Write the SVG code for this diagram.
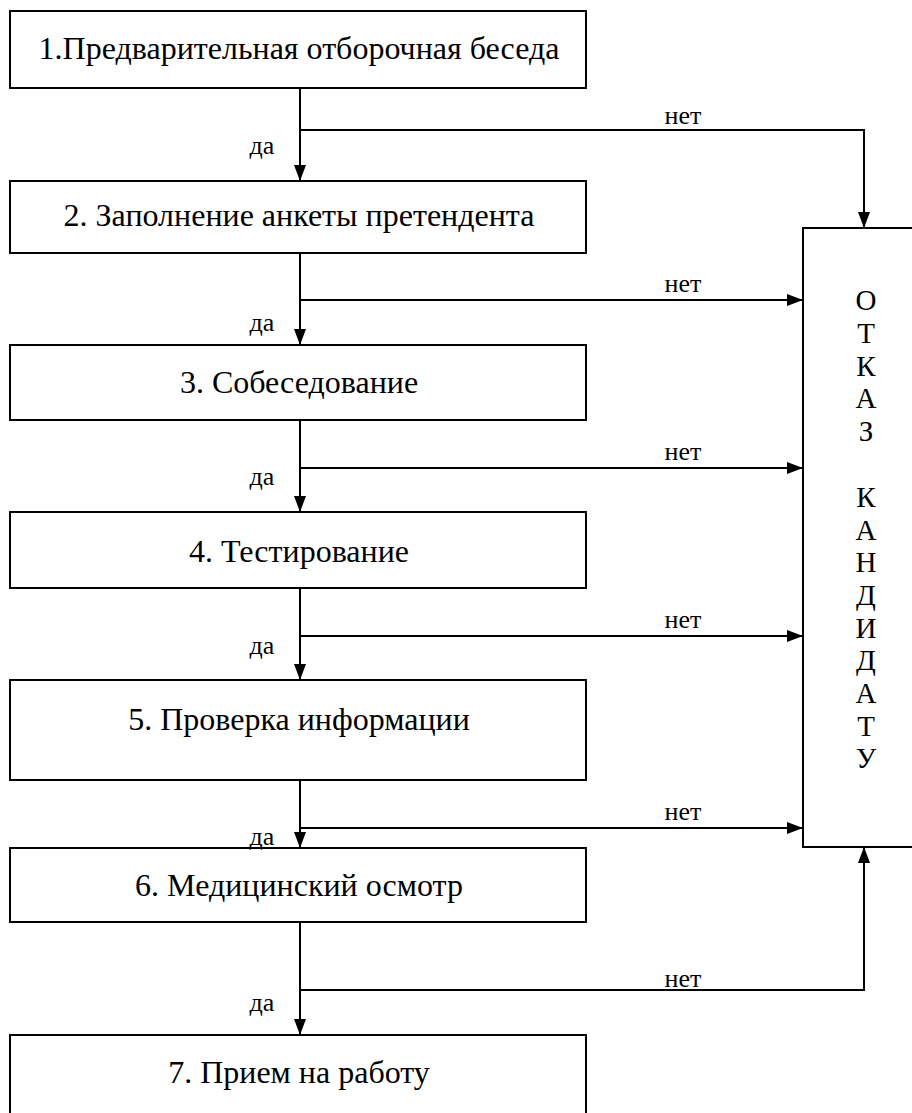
<svg xmlns="http://www.w3.org/2000/svg" width="912" height="1113" viewBox="0 0 912 1113" font-family="'Liberation Serif', 'Times New Roman', serif">
<style>
.box{fill:#fff;stroke:#000;stroke-width:2}
text{font-family:'Liberation Serif','Times New Roman',serif;fill:#000;text-anchor:middle}
.t{font-size:32px}
.l{font-size:26px}
.c{fill:none;stroke:#000;stroke-width:2}
.v{font-size:29px}
</style>
<defs>
<marker id="ah" markerWidth="16" markerHeight="12" refX="16" refY="6" orient="auto" markerUnits="userSpaceOnUse" viewBox="0 0 16 12"><path d="M0,0 L16,6 L0,12 Z" fill="#000"/></marker>
</defs>
<g id="n1"><rect class="box" x="10" y="11" width="576" height="77"/><text class="t" x="299" y="59">1.Предварительная отборочная беседа</text></g>
<g id="n2"><rect class="box" x="10" y="181" width="576" height="72"/><text class="t" x="299" y="226">2. Заполнение анкеты претендента</text></g>
<g id="n3"><rect class="box" x="10" y="345" width="576" height="75"/><text class="t" x="299" y="393">3. Собеседование</text></g>
<g id="n4"><rect class="box" x="10" y="512" width="576" height="76"/><text class="t" x="299" y="562">4. Тестирование</text></g>
<g id="n5"><rect class="box" x="10" y="680" width="576" height="100"/><text class="t" x="299" y="730">5. Проверка информации</text></g>
<g id="n6"><rect class="box" x="10" y="848" width="576" height="74"/><text class="t" x="299" y="896">6. Медицинский осмотр</text></g>
<g id="n7"><rect class="box" x="10" y="1035" width="576" height="90"/><text class="t" x="299" y="1083">7. Прием на работу</text></g>
<g id="reject"><rect class="box" x="803" y="228" width="120" height="619"/>
<text class="v" x="866" y="310">О</text><text class="v" x="866" y="343">Т</text><text class="v" x="866" y="376">К</text><text class="v" x="866" y="408">А</text><text class="v" x="866" y="441">З</text>
<text class="v" x="866" y="507">К</text><text class="v" x="866" y="540">А</text><text class="v" x="866" y="572">Н</text><text class="v" x="866" y="605">Д</text><text class="v" x="866" y="638">И</text><text class="v" x="866" y="670">Д</text><text class="v" x="866" y="703">А</text><text class="v" x="866" y="736">Т</text><text class="v" x="866" y="768">У</text>
</g>
<g id="connectors">
<path class="c" d="M300,88 V181" marker-end="url(#ah)"/>
<path class="c" d="M300,130 H864 V228" marker-end="url(#ah)"/>
<path class="c" d="M300,253 V345" marker-end="url(#ah)"/>
<path class="c" d="M300,300 H803" marker-end="url(#ah)"/>
<path class="c" d="M300,420 V512" marker-end="url(#ah)"/>
<path class="c" d="M300,468 H803" marker-end="url(#ah)"/>
<path class="c" d="M300,588 V680" marker-end="url(#ah)"/>
<path class="c" d="M300,636 H803" marker-end="url(#ah)"/>
<path class="c" d="M300,780 V848" marker-end="url(#ah)"/>
<path class="c" d="M300,828 H803" marker-end="url(#ah)"/>
<path class="c" d="M300,922 V1035" marker-end="url(#ah)"/>
<path class="c" d="M300,990 H864 V847" marker-end="url(#ah)"/>
<text class="l" x="262" y="154">да</text><text class="l" x="683" y="124">нет</text>
<text class="l" x="262" y="331">да</text><text class="l" x="683" y="292">нет</text>
<text class="l" x="262" y="485">да</text><text class="l" x="683" y="460">нет</text>
<text class="l" x="262" y="654">да</text><text class="l" x="683" y="628">нет</text>
<text class="l" x="262" y="845">да</text><text class="l" x="683" y="820">нет</text>
<text class="l" x="262" y="1011">да</text><text class="l" x="683" y="987">нет</text>
</g>
</svg>
